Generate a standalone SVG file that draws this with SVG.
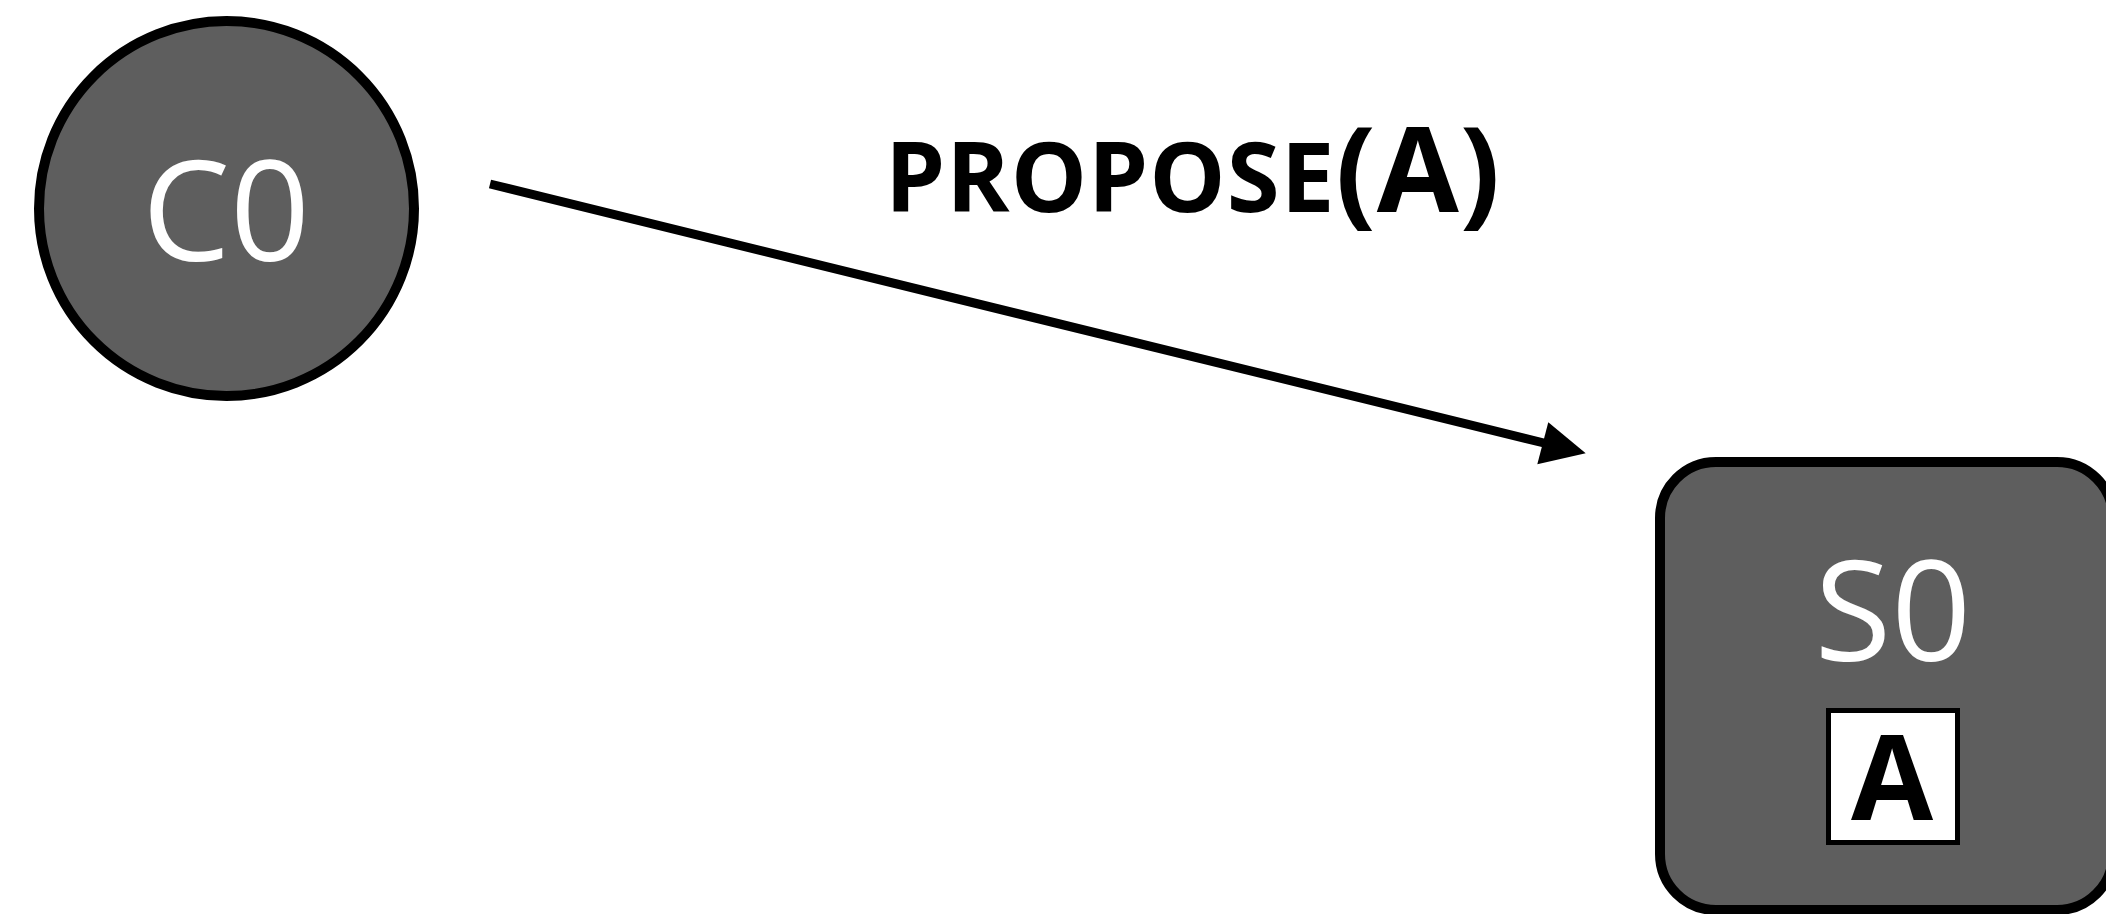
<svg xmlns="http://www.w3.org/2000/svg" width="2106" height="914" viewBox="0 0 2106 914">
  <style>
    .node { fill: #5e5e5e; stroke: #000; stroke-width: 10; }
    .lbl { font-family: "Open Sans", "Noto Sans", "DejaVu Sans", sans-serif; font-size: 140px; fill: #fff; text-anchor: middle; }
    .msg { font-family: "Open Sans", "Noto Sans", "DejaVu Sans", sans-serif; font-weight: bold; fill: #000; }
    .edge { stroke: #000; stroke-width: 9; fill: none; }
  </style>
  <rect width="2106" height="914" fill="#fff"/>
  <g id="C0">
    <circle class="node" cx="226.5" cy="208.5" r="187.5"/>
    <text class="lbl" x="226" y="261">C0</text>
  </g>
  <g id="S0">
    <rect class="node" x="1660" y="462" width="453" height="448" rx="56" ry="56"/>
    <text class="lbl" x="1893" y="661">S0</text>
    <rect x="1828.5" y="710.5" width="129" height="132" fill="#fff" stroke="#000" stroke-width="5"/>
    <text class="msg" x="1892" y="820" font-size="119" text-anchor="middle">A</text>
  </g>
  <g id="connectors">
    <line class="edge" x1="490" y1="184" x2="1546" y2="443.5"/>
    <polygon points="1585.7,453.3 1548.3,422.3 1537.3,464.3" fill="#000"/>
    <text class="msg" x="885" y="212" font-size="96" letter-spacing="1">PROPOSE<tspan font-size="119">(A)</tspan></text>
  </g>
</svg>
